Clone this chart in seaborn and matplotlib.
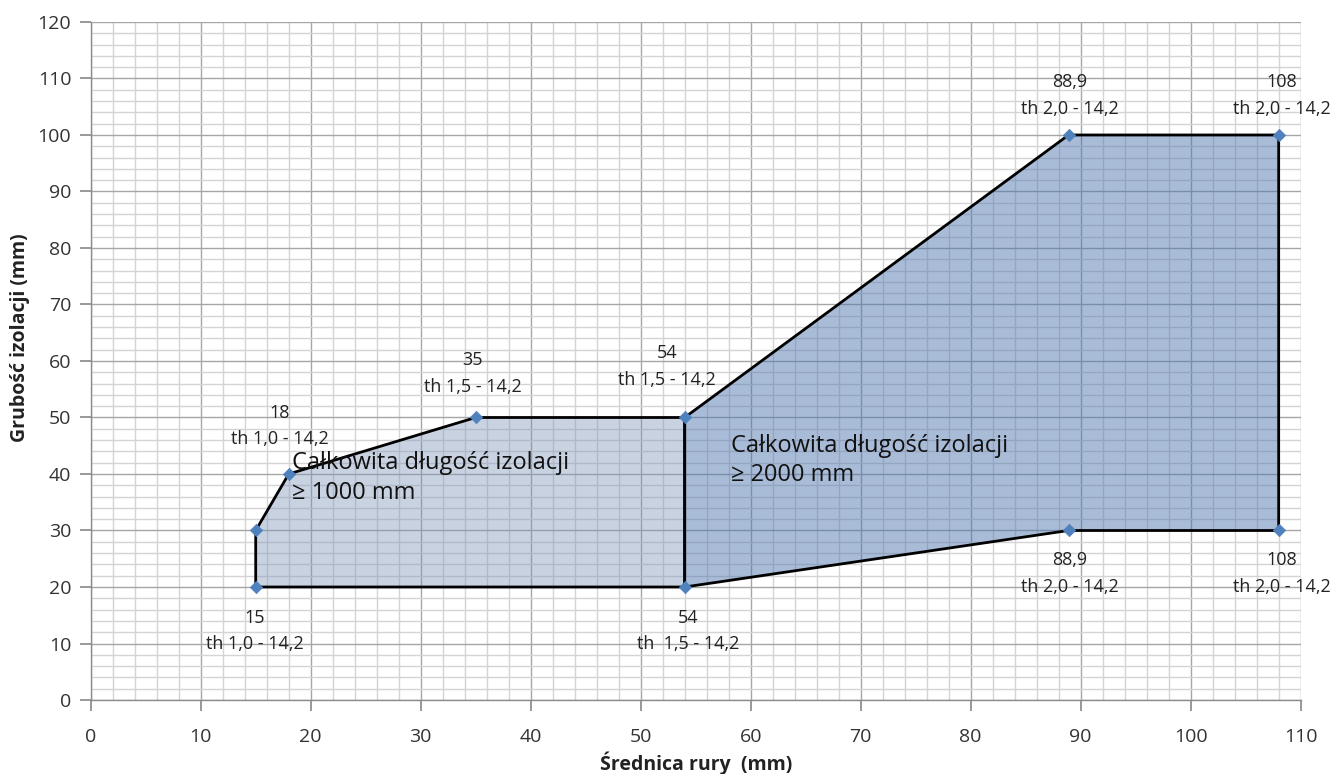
import matplotlib
matplotlib.use("Agg")
import matplotlib.pyplot as plt
import seaborn as sns
import numpy as np
import pandas as pd

# ---- data ----
left_x = [15, 15, 18, 35, 54, 54, 15]
left_y = [20, 30, 40, 50, 50, 20, 20]
right_x = [54, 54, 88.9, 108, 108, 88.9, 54]
right_y = [20, 50, 100, 100, 30, 30, 20]
pts_x = [15, 15, 18, 35, 54, 54, 88.9, 108, 108, 88.9]
pts_y = [20, 30, 40, 50, 50, 20, 100, 100, 30, 30]

labels = ["18\nth 1,0 - 14,2", "35\nth 1,5 - 14,2", "54\nth 1,5 - 14,2",
          "88,9\nth 2,0 - 14,2", "108\nth 2,0 - 14,2",
          "15\nth 1,0 - 14,2", "54\nth  1,5 - 14,2",
          "88,9\nth 2,0 - 14,2", "108\nth 2,0 - 14,2"]
label_x = [17.2, 34.7, 52.4, 89.0, 108.3, 14.9, 54.3, 89.0, 108.3]
label_y = [48.5, 57.8, 59.0, 107.0, 107.0, 12.2, 12.2, 22.4, 22.4]

region_text = ["Całkowita długość izolacji\n≥ 1000 mm", "Całkowita długość izolacji\n≥ 2000 mm"]
region_x = [18.3, 58.2]
region_y = [39.3, 42.4]

x_ticks = list(range(0, 111, 10))
y_ticks = list(range(0, 121, 10))

sns.set_theme(style="white")
plt.rcParams['font.family'] = ['Open Sans', 'DejaVu Sans']

fig = plt.figure(figsize=(13.34, 7.74), dpi=100)
ax = fig.add_axes([0.068, 0.0956, 0.907, 0.876])

# grid
ax.set_xlim(0, 110)
ax.set_ylim(0, 120)
ax.set_xticks(x_ticks)
ax.set_yticks(y_ticks)
ax.set_xticks(np.arange(0, 111, 2), minor=True)
ax.set_yticks(np.arange(0, 121, 2), minor=True)
ax.grid(which="minor", color="#d4d4d4", linewidth=1.0, zorder=0)
ax.grid(which="major", color="#a6a6a6", linewidth=1.0, zorder=0)
ax.set_axisbelow(True)

ax.fill(left_x, left_y, facecolor="#7f95b8", alpha=0.42, zorder=1, linewidth=0)
ax.fill(right_x, right_y, facecolor="#4d74ad", alpha=0.48, zorder=1, linewidth=0)

df_l = pd.DataFrame({"x": left_x, "y": left_y})
df_r = pd.DataFrame({"x": right_x, "y": right_y})
sns.lineplot(data=df_l, x="x", y="y", sort=False, estimator=None, color="black", linewidth=2, ax=ax, zorder=3)
sns.lineplot(data=df_r, x="x", y="y", sort=False, estimator=None, color="black", linewidth=2, ax=ax, zorder=3)
sns.scatterplot(x=pts_x, y=pts_y, marker="D", color="#4f81bd", s=40, edgecolor="#4f81bd", ax=ax, zorder=4)

for t, x, y in zip(labels, label_x, label_y):
    ax.text(x, y, t, ha="center", va="center", fontsize=13, color="#222222",
            linespacing=1.6, zorder=5, clip_on=False)
for t, x, y in zip(region_text, region_x, region_y):
    ax.text(x, y, t, ha="left", va="center", fontsize=17, color="#111111",
            linespacing=1.3, zorder=5)

for s in ["top", "right"]:
    ax.spines[s].set_visible(False)
for s in ["left", "bottom"]:
    ax.spines[s].set_color("#8c8c8c")
    ax.spines[s].set_linewidth(1.0)
ax.tick_params(axis="both", which="major", length=8, color="#8c8c8c", direction="out",
               labelsize=14, labelcolor="#333333", bottom=True, left=True)
ax.tick_params(axis="y", which="major", pad=6)
ax.tick_params(axis="x", which="major", pad=12)
ax.tick_params(axis="both", which="minor", length=0)
ax.set_xlabel("Średnica rury  (mm)", fontsize=14, fontweight="bold", color="#222222", labelpad=4)
ax.set_ylabel("Grubość izolacji (mm)", fontsize=14, fontweight="bold", color="#222222")
ax.yaxis.set_label_coords(-0.05, 0.535)

fig.savefig("out.png", dpi=100)
